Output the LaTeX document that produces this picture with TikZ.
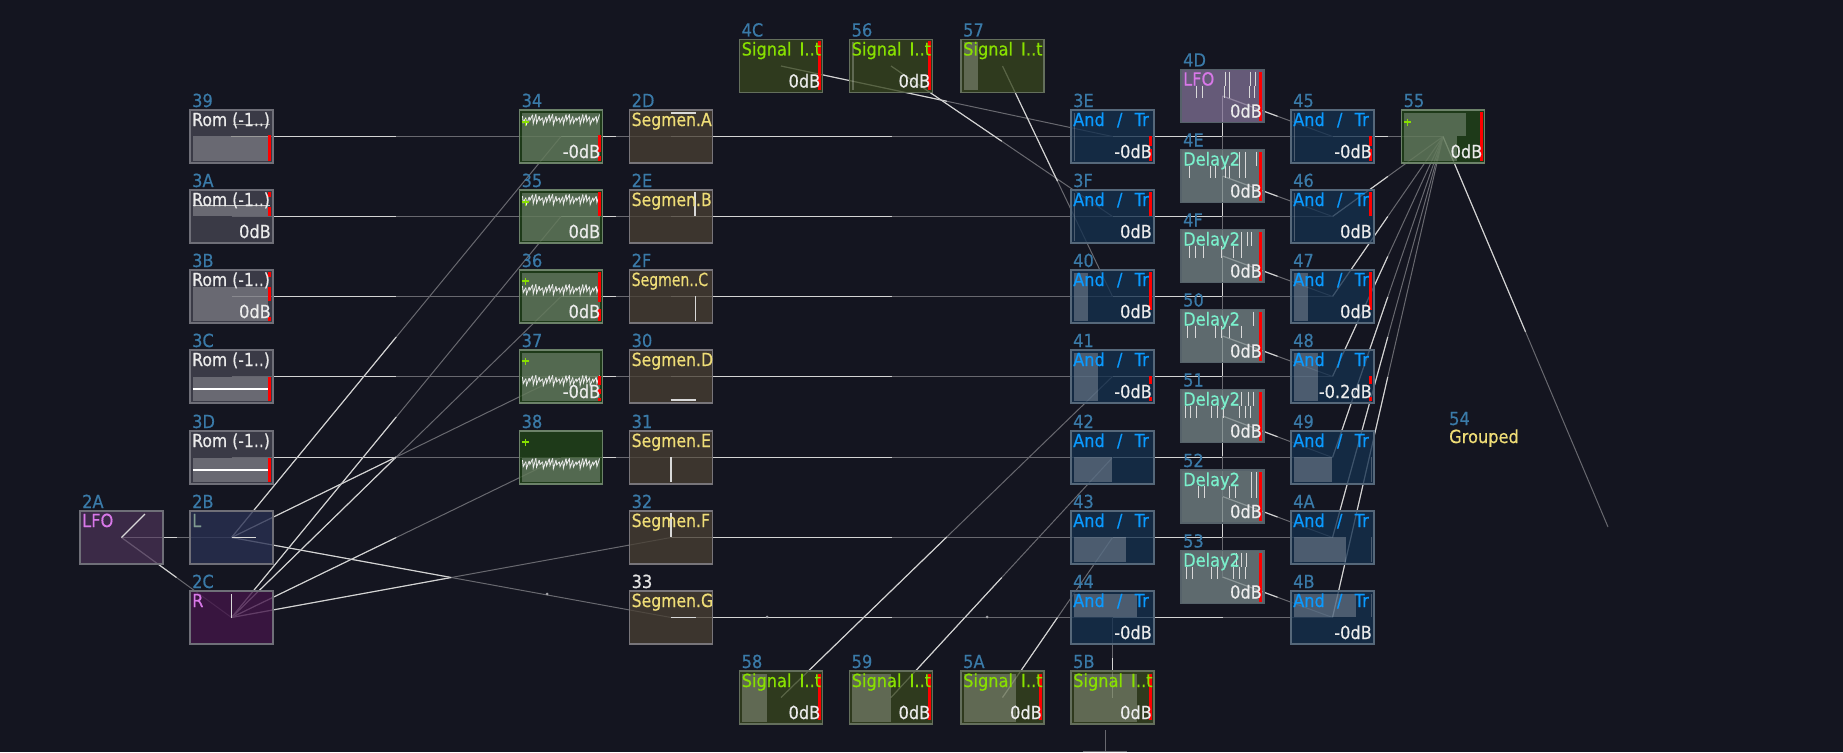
\documentclass[tikz,border=0pt]{standalone}
\usepackage{fontspec}
\usetikzlibrary{calc}
\newfontfamily\pix[FakeStretch=0.9,FakeBold=0.5]{DejaVu Sans}
\newfontfamily\pixseg[FakeStretch=0.87,FakeBold=0.5]{DejaVu Sans}
\newfontfamily\pixsegn[FakeStretch=0.78,FakeBold=0.5]{DejaVu Sans}
\newfontfamily\pixsig[FakeStretch=0.9,FakeBold=0.5]{DejaVu Sans}
\definecolor{pagebg}{HTML}{141520}
\definecolor{idblue}{HTML}{3A7AA8}
\definecolor{brightw}{HTML}{D4D4D4}
\definecolor{dimw}{HTML}{68686F}
\definecolor{redm}{HTML}{FF0000}
\definecolor{romline}{HTML}{6F6F78}\definecolor{romfill}{HTML}{454551}
\definecolor{synline}{HTML}{6C8269}\definecolor{synfill}{HTML}{224518}
\definecolor{segline}{HTML}{78757A}\definecolor{segfill}{HTML}{483F33}
\definecolor{sigline}{HTML}{646F5C}\definecolor{sigfill}{HTML}{37451E}
\definecolor{andline}{HTML}{56687A}\definecolor{andfill}{HTML}{14304E}
\definecolor{dlyline}{HTML}{56626A}\definecolor{dlyfill}{HTML}{748284}
\definecolor{lfofill}{HTML}{463052}\definecolor{ldefill}{HTML}{7D6E91}
\definecolor{lfill}{HTML}{293053}\definecolor{rfill}{HTML}{431549}
\definecolor{segyel}{HTML}{EFDD77}\definecolor{siggrn}{HTML}{88E000}
\definecolor{andblu}{HTML}{0A9AFF}\definecolor{dlymnt}{HTML}{7AF0CC}
\definecolor{lfopur}{HTML}{D878E8}\definecolor{lcol}{HTML}{7F9A90}
\definecolor{plusg}{HTML}{88E000}
\pgfdeclarelayer{back}\pgfdeclarelayer{wires}\pgfsetlayers{back,wires,main}
\tikzset{
  block/.style={draw=#1,line width=1.4pt,fill opacity=.78,draw opacity=1,minimum width=83pt,minimum height=53pt,inner sep=0pt,outer sep=0pt},
  romb/.style={block=romline,fill=romfill},
  synb/.style={block=synline,fill=synfill},
  segb/.style={block=segline,fill=segfill},
  sigb/.style={block=sigline,fill=sigfill},
  andb/.style={block=andline,fill=andfill},
  dlyb/.style={block=dlyline,fill=dlyfill},
  lfob/.style={block=romline,fill=lfofill},
  ldeb/.style={block=dlyline,fill=ldefill},
  lbox/.style={block=romline,fill=lfill},
  rbox/.style={block=romline,fill=rfill},
  idt/.style={anchor=base west,inner sep=0pt,font=\pix\fontsize{18}{18}\selectfont,text=idblue},
  ttl/.style={anchor=base west,inner sep=0pt,font=\pix\fontsize{18}{18}\selectfont},
  dbt/.style={anchor=base east,inner sep=0pt,font=\pix\fontsize{18}{18}\selectfont,text=white!92!black},
  bw/.style={draw=brightw,line width=1.1pt},
  dw/.style={draw=dimw,line width=1pt},
  seg/.style={draw=white!85!black,line width=1.2pt},
}
% block: name, x, y, style, title, decoration, dB text
\newcommand{\blk}[7]{%
  \begin{scope}[shift={(#2,#3)}]
    \node[#4] (n#1) at (41.5,26.5) {};
    #6
    \node[idt] (i#1) at (2,-3) {#1};
    #5
    \if\relax\detokenize{#7}\relax\else\node[dbt] (d#1) at (81,48) {#7};\fi
  \end{scope}}
\newcommand{\ttlnode}[3]{\node[ttl,text=#1,font=#2\fontsize{18}{18}\selectfont] (t#3) at (2,16)}
\newcommand{\lv}[4]{\fill[white,fill opacity=.24] (#1,#2) rectangle (#3,#4);}
\newcommand{\rd}[2]{\fill[redm] (78,#1) rectangle (81,#2);}
\newcommand{\plus}[1]{\draw[draw=plusg,line width=1.7pt] (2.5,#1) -- (9.5,#1) (6,#1-3.5) -- (6,#1+3.5);}
\newcommand{\wavef}[1]{\foreach \i in {0,...,22}{%
  \pgfmathsetmacro{\tp}{#1-4+1.8*sin(\i*73)}\pgfmathsetmacro{\bt}{#1+2.5+2.2*sin(\i*131)}%
  \pgfmathsetmacro{\xx}{3+\i*3.35}\pgfmathsetmacro{\xy}{\xx+3.35}\pgfmathsetmacro{\tq}{#1-4+1.8*sin((\i+1)*73)}%
  \draw[white!92!black,line width=.85pt] (\xx,\tp) -- (\xx+.7,\bt) -- (\xy,\tq);}}
\newcommand{\tks}[2]{\foreach \a in {#1}{\draw[white!85!black,line width=1pt] (\a,2) -- (\a,16);}%
  \foreach \a in {#2}{\draw[white!85!black,line width=1pt] (\a,16) -- (\a,28);}}
\newcommand{\wire}[2]{\begin{pgfonlayer}{wires}
  \draw[dw] (#1.center) -- (#2.center);
  \draw[bw] (#1.center) -- ($(#1.center)!.5!(#2.center)$);
  \end{pgfonlayer}}
\newcommand{\RomT}[1]{\ttlnode{white!92!black}{\pixseg}{#1} {Rom (-1..)};}
\newcommand{\SegT}[2]{\ttlnode{segyel}{\pixseg}{#1} {#2};}
\newcommand{\SigT}[1]{\ttlnode{siggrn}{\pixsig}{#1} {Signal\hspace{3pt} I..t};}
\newcommand{\AndT}[1]{\ttlnode{andblu}{\pix}{#1} {And\hspace{7pt} /\hspace{7pt} Tr};}
\newcommand{\DlyT}[1]{\ttlnode{dlymnt}{\pix}{#1} {Delay2};}
\begin{document}
\begin{tikzpicture}[x=1pt,y=-1pt]
\begin{pgfonlayer}{back}
\fill[pagebg] (0,0) rectangle (1843,752);
\end{pgfonlayer}
\useasboundingbox (0,0) rectangle (1843,752);
% LFO and channels
\blk{2A}{80}{511}{lfob}{\ttlnode{lfopur}{\pix}{2A} {LFO};}{\draw[seg] (41.5,26.5) -- (65,3);}{}
\blk{2B}{190}{511}{lbox}{\ttlnode{lcol}{\pix}{2B} {L};}{\draw[seg] (41.5,26.5) -- (66,26.5);}{}
\blk{2C}{190}{591}{rbox}{\ttlnode{lfopur}{\pix}{2C} {R};}{\draw[seg] (41.5,26.5) -- (41.5,3);}{}
% Rom
\blk{39}{190}{110}{romb}{\RomT{39}}{\lv{2.5}{26}{78}{51}\draw[white!60!black,line width=1pt] (43,14) -- (80,14) (41,26) -- (80,26);\rd{25}{51}}{}
\blk{3A}{190}{190}{romb}{\RomT{3A}}{\lv{2.5}{16}{78}{26}\draw[white!80!black,line width=1pt] (2.5,15) -- (80,15);\rd{2}{7}\rd{17}{26}}{0dB}
\blk{3B}{190}{270}{romb}{\RomT{3B}}{\lv{2.5}{17}{78}{51}\rd{2}{7}\rd{17}{31}\rd{47}{51}}{0dB}
\blk{3C}{190}{350}{romb}{\RomT{3C}}{\lv{2.5}{27}{78}{51}\draw[white,line width=1.1pt] (2.5,39) -- (78,39);\rd{27}{51}}{}
\blk{3D}{190}{431}{romb}{\RomT{3D}}{\lv{2.5}{27}{78}{51}\draw[white,line width=1.1pt] (2.5,39) -- (78,39);\rd{27}{51}}{}
% Synth
\blk{34}{519.5}{110}{synb}{}{\lv{2.5}{2.5}{80.5}{50.5}\wavef{10}\plus{12}\rd{25}{42}\rd{46}{51}}{-0dB}
\blk{35}{519.5}{190}{synb}{}{\lv{2.5}{2.5}{80.5}{50.5}\wavef{10}\plus{12}\rd{2}{26}}{0dB}
\blk{36}{519.5}{270}{synb}{}{\lv{2.5}{2.5}{80.5}{50.5}\wavef{20}\plus{11}\rd{2}{32}\rd{39}{51}}{0dB}
\blk{37}{519.5}{350}{synb}{}{\lv{2.5}{2.5}{80.5}{50.5}\wavef{31}\plus{11}\rd{26}{35}\rd{39}{44}\rd{48}{51}}{-0dB}
\blk{38}{519.5}{431}{synb}{}{\lv{2.5}{27}{80.5}{50.5}\wavef{33}\plus{11}}{}
% Segments
\blk{2D}{629.5}{110}{segb}{\SegT{2D}{Segmen.A}}{\draw[seg] (41,3) -- (66,3);}{}
\blk{2E}{629.5}{190}{segb}{\SegT{2E}{Segmen.B}}{\draw[seg] (65.5,2) -- (65.5,26);}{}
\blk{2F}{629.5}{270}{segb}{\ttlnode{segyel}{\pixsegn}{2F} {Segmen..C};}{\draw[seg] (66,26) -- (66,51);}{}
\blk{30}{629.5}{350}{segb}{\SegT{30}{Segmen.D}}{\draw[seg] (41,50) -- (66,50);}{}
\blk{31}{629.5}{431}{segb}{\SegT{31}{Segmen.E}}{\draw[seg] (41.5,26) -- (41.5,51);}{}
\blk{32}{629.5}{511}{segb}{\SegT{32}{Segmen.F}}{\draw[seg] (41.5,2) -- (41.5,26);}{}
\begin{scope}[idt/.append style={text=white!90!black}]
\blk{33}{629.5}{591}{segb}{\SegT{33}{Segmen.G}}{\draw[seg] (41,26.5) -- (66,26.5);}{}
\end{scope}
% Signal top
\blk{4C}{739.5}{39.5}{sigb}{\SigT{4C}}{\rd{2}{50}}{0dB}
\blk{56}{849.5}{39.5}{sigb}{\SigT{56}}{\lv{2.5}{2.5}{4}{50.5}\rd{2}{50}}{0dB}
\blk{57}{961}{39.5}{sigb}{\SigT{57}}{\lv{2.5}{2.5}{17}{50.5}}{}
% Signal bottom
\blk{58}{739.5}{671}{sigb}{\SigT{58}}{\lv{2.5}{2.5}{27}{50.5}\rd{3}{49}}{0dB}
\blk{59}{849.5}{671}{sigb}{\SigT{59}}{\lv{2.5}{2.5}{41}{50.5}\rd{3}{49}}{0dB}
\blk{5A}{961}{671}{sigb}{\SigT{5A}}{\lv{2.5}{2.5}{55}{50.5}\rd{3}{49}}{0dB}
\blk{5B}{1071}{671}{sigb}{\SigT{5B}}{\lv{2.5}{2.5}{66}{50.5}\rd{3}{49}}{0dB}
% And column 1
\blk{3E}{1071}{110}{andb}{\AndT{3E}}{\lv{2.5}{2.5}{3.5}{50.5}\rd{26}{36}\rd{39}{51}}{-0dB}
\blk{3F}{1071}{190}{andb}{\AndT{3F}}{\lv{2.5}{2.5}{3.5}{50.5}\rd{2}{26}}{0dB}
\blk{40}{1071}{270}{andb}{\AndT{40}}{\lv{2.5}{2.5}{17}{50.5}\rd{2}{40}}{0dB}
\blk{41}{1071}{350}{andb}{\AndT{41}}{\lv{2.5}{2.5}{27}{50.5}\rd{26}{34}\rd{47}{51}}{-0dB}
\blk{42}{1071}{431}{andb}{\AndT{42}}{\lv{2.5}{26}{41}{50.5}}{}
\blk{43}{1071}{511}{andb}{\AndT{43}}{\lv{2.5}{26}{55}{50.5}}{}
\blk{44}{1071}{591}{andb}{\AndT{44}}{\lv{2.5}{2.5}{66}{26}}{-0dB}
% Delays
\blk{4D}{1181}{69.5}{ldeb}{\ttlnode{lfopur}{\pix}{4D} {LFO};}{\tks{44,48,69,74}{15,21,43,48,68,73}\rd{2}{51}}{0dB}
\blk{4E}{1181}{149.5}{dlyb}{\DlyT{4E}}{\tks{58,64,75}{8,29,34,44,48,58,64}\rd{2}{51}}{0dB}
\blk{4F}{1181}{229.5}{dlyb}{\DlyT{4F}}{\tks{60,66,70}{8,14,22,40,52,60}\rd{2}{51}}{0dB}
\blk{50}{1181}{309.5}{dlyb}{\DlyT{50}}{\tks{72}{6,14,34,40,48,60}\rd{2}{51}}{0dB}
\blk{51}{1181}{389.5}{dlyb}{\DlyT{51}}{\tks{60,67,72}{4,9,15,30,36,42,58,64,69}\rd{2}{51}}{0dB}
\blk{52}{1181}{470}{dlyb}{\DlyT{52}}{\tks{70,75}{17,23,48,54,70,75}\rd{2}{51}}{0dB}
\blk{53}{1181}{550.5}{dlyb}{\DlyT{53}}{\tks{55,60,65}{5,11,30,36,52,58,64}\rd{2}{51}}{0dB}
% And column 2
\blk{45}{1291}{110}{andb}{\AndT{45}}{\lv{2.5}{2.5}{3.5}{50.5}\rd{26}{36}\rd{39}{51}}{-0dB}
\blk{46}{1291}{190}{andb}{\AndT{46}}{\lv{2.5}{2.5}{3.5}{50.5}\rd{2}{26}}{0dB}
\blk{47}{1291}{270}{andb}{\AndT{47}}{\lv{2.5}{2.5}{17}{50.5}\rd{2}{40}}{0dB}
\blk{48}{1291}{350}{andb}{\AndT{48}}{\lv{2.5}{2.5}{27}{50.5}\rd{26}{34}\rd{47}{51}}{-0.2dB}
\blk{49}{1291}{431}{andb}{\AndT{49}}{\lv{2.5}{26}{41}{50.5}\lv{79.5}{26}{81}{50.5}}{}
\blk{4A}{1291}{511}{andb}{\AndT{4A}}{\lv{2.5}{26}{55}{50.5}\lv{79.5}{26}{81}{50.5}}{}
\blk{4B}{1291}{591}{andb}{\AndT{4B}}{\lv{2.5}{2.5}{65}{26}\lv{79.5}{2.5}{81}{26}}{-0dB}
% Output
\blk{55}{1401.5}{110}{synb}{}{\lv{2.5}{2.5}{64}{26}\lv{2.5}{26}{55}{50.5}\plus{12}\rd{2}{51}}{0dB}
% Grouped
\node[idt] (i54) at (1449,425) {54};
\node[ttl,text=segyel] (n54) at (1449,443) {Grouped};
\coordinate (grp) at (1608,527);
% Wires
\wire{n39}{n34}\wire{n3A}{n35}\wire{n3B}{n36}\wire{n3C}{n37}\wire{n3D}{n38}
\wire{n34}{n2D}\wire{n35}{n2E}\wire{n36}{n2F}\wire{n37}{n30}\wire{n38}{n31}
\wire{n2D}{n3E}\wire{n2E}{n3F}\wire{n2F}{n40}\wire{n30}{n41}\wire{n31}{n42}\wire{n32}{n43}\wire{n33}{n44}
\wire{n3E}{n45}\wire{n3F}{n46}\wire{n40}{n47}\wire{n41}{n48}\wire{n42}{n49}\wire{n43}{n4A}\wire{n44}{n4B}
\wire{n45}{n55}\wire{n46}{n55}\wire{n47}{n55}\wire{n48}{n55}\wire{n49}{n55}\wire{n4A}{n55}\wire{n4B}{n55}
\wire{n55}{grp}
\wire{n2A}{n2B}\wire{n2A}{n2C}
\wire{n2B}{n34}\wire{n2C}{n35}\wire{n2C}{n36}\wire{n2B}{n37}\wire{n2C}{n38}
\wire{n2C}{n32}\wire{n2B}{n33}
\wire{n4C}{n3E}\wire{n56}{n3F}\wire{n57}{n40}
\wire{n58}{n41}\wire{n59}{n42}\wire{n5A}{n43}\wire{n5B}{n44}
\wire{n4D}{n45}\wire{n4E}{n46}\wire{n4F}{n47}\wire{n50}{n48}\wire{n51}{n49}\wire{n52}{n4A}\wire{n53}{n4B}
\wire{n4D}{n4E}\wire{n4E}{n4F}\wire{n4F}{n50}\wire{n50}{n51}\wire{n51}{n52}\wire{n52}{n53}
% small marks on wires
\coordinate (dota) at (547,594);\coordinate (dotb) at (767,617);\coordinate (dotc) at (987,617);
\begin{pgfonlayer}{wires}
\foreach \d in {dota,dotb,dotc}{\fill[dimw!60!white] (\d) circle (1.5pt);}
\end{pgfonlayer}
% stub of a block below the frame
\coordinate (stubt) at (1105,730);\coordinate (stubb) at (1105,752);
\coordinate (stubl) at (1083,751);\coordinate (stubr) at (1127,751);
\draw[dw] (stubt) -- (stubb) (stubl) -- (stubr);
\end{tikzpicture}
\end{document}
